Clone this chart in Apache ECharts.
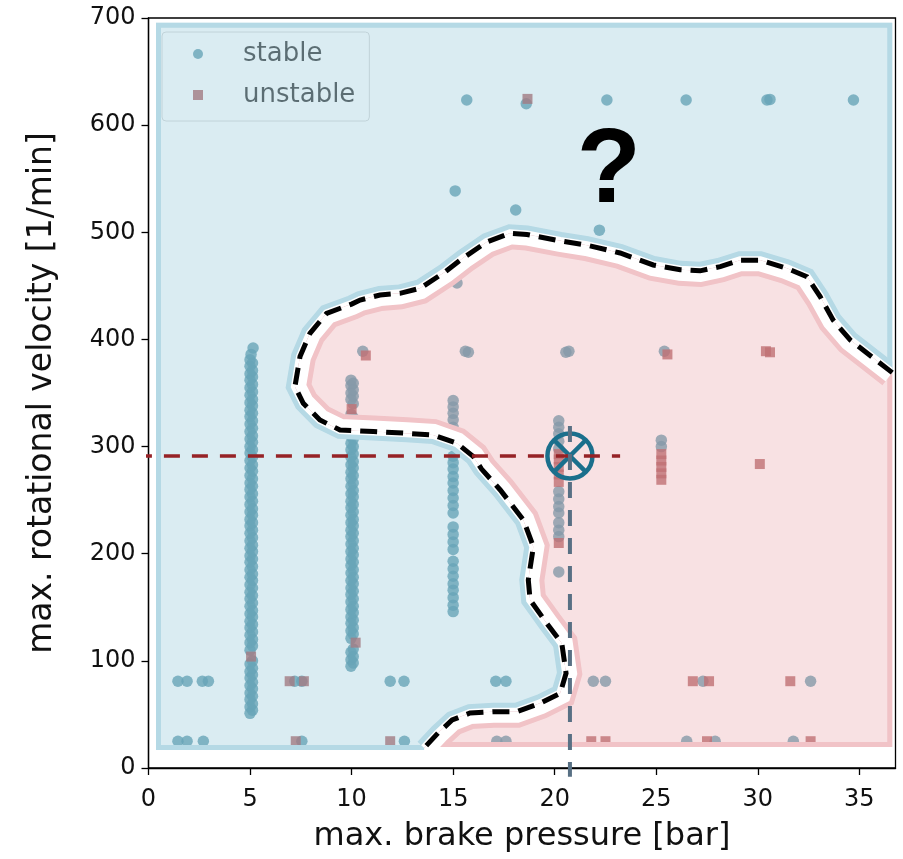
<!DOCTYPE html>
<html>
<head>
<meta charset="utf-8">
<script src="https://cdn.jsdelivr.net/npm/echarts@6/dist/echarts.min.js"></script>
<style>
html, body { margin: 0; padding: 0; background: #fff; }
#main { width: 903px; height: 859px; }
</style>
</head>
<body>
<div id="main"></div>
<script>
// stability boundary (black dashed line), from right edge round the bulge down to the bottom
var boundaryX = [36.62, 34.55, 33.71, 33.07, 32.42, 31.43, 30.12, 29.13, 28.15, 27.16, 26.18, 24.85, 23.22, 21.58, 20.27, 18.63, 17.8, 16.66, 15.49, 14.6, 13.37, 12.38, 11.4, 10.42, 10.0, 8.77, 7.95, 7.46, 7.21, 7.62, 8.44, 9.43, 11.07, 12.71, 14.02, 15.18, 16.0, 16.4, 17.32, 18.46, 18.95, 18.7, 18.79, 19.61, 20.35, 20.56, 20.27, 19.28, 18.13, 16.98, 15.83, 14.95, 14.26, 13.57];
var boundaryY = [369, 399.5, 418, 440, 458.6, 466.4, 474, 474, 468, 464, 465, 469.5, 480.7, 488, 492, 498, 499, 491, 476, 463, 447.7, 443, 441.5, 436.8, 433, 424.4, 405.7, 384, 356, 340.4, 324.8, 315.5, 314, 312.4, 310.8, 303.1, 290.6, 279, 259.5, 231.5, 206.5, 175.5, 156.8, 135.1, 116.4, 88.4, 69.7, 60.4, 52.5, 52.5, 51.3, 44.8, 32.7, 18.7];
// outer corners of the two regions
var blueCornerX = [36.62, 36.62, 0.37, 0.37, 13.57];
var blueCornerY = [369, 695.5, 695.5, 16.8, 16.8];
var pinkCornerX = [13.57, 36.62];
var pinkCornerY = [19.6, 19.6];

// measured runs (dense vertical columns)
var col5Y = [51, 57, 64, 70, 77, 84, 90, 97, 110, 117, 124, 131, 137, 144, 151, 158, 164, 171, 178, 185, 192, 198, 205, 212, 219, 226, 232, 239, 246, 253, 260, 266, 273, 280, 287, 294, 300, 307, 314, 321, 328, 334, 341, 348, 355, 362, 368, 375, 381];
var col5bY = [54, 60, 67, 74, 80, 87, 93, 100, 114, 120, 127, 134, 141, 147, 154, 161, 168, 175, 181, 188, 195, 202, 208, 215, 222, 229, 236, 242, 249, 256, 263, 270, 277, 283, 290, 297, 304, 310, 317, 324, 331, 338, 344, 351, 358, 365, 371, 378];
var col10Y = [95, 101, 108, 121, 128, 135, 141, 148, 155, 162, 168, 175, 182, 189, 195, 202, 209, 216, 222, 229, 236, 243, 249, 256, 263, 270, 276, 283, 290, 297, 303, 310, 317, 324, 330, 344, 350, 357, 362];
var col10bY = [98, 104, 111, 125, 131, 138, 145, 151, 158, 165, 172, 178, 185, 192, 199, 205, 212, 219, 226, 232, 239, 246, 253, 259, 266, 273, 280, 286, 293, 300, 307, 313, 320, 327, 340, 347, 353, 359];
var col15Y = [146, 152, 159, 166, 172, 179, 186, 193, 204, 211, 218, 225, 238, 245, 252, 259, 266, 272, 279, 285, 291, 306, 318, 325, 331, 337, 343];
var col20Y = [183, 216, 222, 229, 238, 244, 251, 258, 298, 305, 312, 318, 324];
var col25Y = [300, 306];
var stableOther = [
  [5.15, 392], [5.05, 386],
  [10.55, 389], [15.6, 389], [15.75, 388], [20.55, 388], [20.7, 389], [25.4, 389],
  [15.67, 623.5], [18.6, 620], [22.57, 623.5], [26.47, 623.5], [30.45, 623.5], [30.6, 624], [34.71, 623.5],
  [15.1, 538.6], [18.08, 520.8], [22.2, 502], [15.19, 452.7],
  [1.45, 81], [1.9, 81], [2.65, 81], [2.95, 81], [7.2, 81], [7.55, 81], [11.9, 81], [12.58, 81], [17.1, 81], [17.6, 81], [21.9, 81], [22.5, 81], [27.3, 81], [32.6, 81],
  [1.45, 25], [1.9, 25], [2.7, 25], [7.55, 25], [12.6, 25], [17.15, 25], [17.6, 25], [26.5, 25], [27.9, 25], [31.75, 25]
];
var col20UnstableY = [210, 267, 274, 281, 288, 293];
var col25UnstableY = [269, 275, 281, 287, 293];
var unstableOther = [
  [5.05, 104], [10.0, 335], [10.2, 117], [30.1, 283.7],
  [10.7, 385], [25.55, 386], [30.4, 389], [30.6, 388],
  [18.66, 624.5],
  [6.95, 81], [7.65, 81], [26.8, 81], [27.6, 81], [31.6, 81],
  [7.25, 25], [11.9, 25], [21.8, 25], [22.5, 25], [27.5, 25], [32.6, 25]
];

// operating point and its guide lines
var opPoint = [20.75, 291.3];
var hLineX = [-0.62, 23.22];
var vLineY = [319.2, -8.1];
var questionPos = [22.66, 555];

var xTicks = [0, 5, 10, 15, 20, 25, 30, 35];

function column(x, ys) {
  return ys.map(function (y) { return [x, y]; });
}
var stableData = [].concat(column(5.0, col5Y), column(5.12, col5bY), column(9.97, col10Y), column(10.08, col10bY),
  column(15.0, col15Y), column(20.2, col20Y), column(25.25, col25Y), stableOther);
var unstableData = [].concat(column(20.2, col20UnstableY), column(25.25, col25UnstableY), unstableOther);

var boundary = boundaryX.map(function (x, i) { return [x, boundaryY[i]]; });
var bluePoly = blueCornerX.map(function (x, i) { return [x, blueCornerY[i]]; }).concat(boundary.slice().reverse());
var pinkPoly = boundary.concat(pinkCornerX.map(function (x, i) { return [x, pinkCornerY[i]]; }));

var blueFill = 'rgba(181,217,229,0.5)', blueLine = '#b5d9e5';
var pinkFill = 'rgba(241,195,199,0.5)', pinkLine = '#f1c3c7';

function renderRegions(params, api) {
  var c = function (p) { return api.coord(p); };
  var blue = bluePoly.map(c), pink = pinkPoly.map(c), bnd = boundary.map(c);
  return {
    type: 'group',
    children: [
      { type: 'polygon', shape: { points: blue }, style: { fill: blueFill } },
      {
        type: 'group', clipPath: { type: 'polygon', shape: { points: blue } },
        children: [
          { type: 'polygon', shape: { points: blue }, style: { fill: 'none', stroke: blueLine, lineWidth: 10 } },
          { type: 'polyline', shape: { points: bnd }, style: { fill: 'none', stroke: blueLine, lineWidth: 18 } },
          { type: 'polyline', shape: { points: bnd }, style: { fill: 'none', stroke: '#fff', lineWidth: 8 } }
        ]
      },
      { type: 'polygon', shape: { points: pink }, style: { fill: pinkFill } },
      {
        type: 'group', clipPath: { type: 'polygon', shape: { points: pink } },
        children: [
          { type: 'polygon', shape: { points: pink }, style: { fill: 'none', stroke: pinkLine, lineWidth: 10 } },
          { type: 'polyline', shape: { points: bnd }, style: { fill: 'none', stroke: pinkLine, lineWidth: 32 } },
          { type: 'polyline', shape: { points: bnd }, style: { fill: 'none', stroke: '#fff', lineWidth: 22 } }
        ]
      },
      { type: 'polyline', shape: { points: bnd }, style: { fill: 'none', stroke: '#000', lineWidth: 5, lineDash: [17, 9] } }
    ]
  };
}

function renderMarks(params, api) {
  var p = api.coord(opPoint);
  var r = 22.5, d = r * Math.SQRT1_2;
  var q = api.coord(questionPos);
  return {
    type: 'group',
    children: [
      { type: 'circle', shape: { cx: p[0], cy: p[1], r: r }, style: { fill: 'none', stroke: '#1b6f8c', lineWidth: 4.5 } },
      { type: 'line', shape: { x1: p[0] - d, y1: p[1] - d, x2: p[0] + d, y2: p[1] + d }, style: { stroke: '#1b6f8c', lineWidth: 4.5 } },
      { type: 'line', shape: { x1: p[0] - d, y1: p[1] + d, x2: p[0] + d, y2: p[1] - d }, style: { stroke: '#1b6f8c', lineWidth: 4.5 } },
      { type: 'text', x: q[0], y: q[1], style: { text: '?', font: 'bold 105px "Liberation Sans"', fill: '#000', align: 'center', verticalAlign: 'middle' } }
    ]
  };
}

var chart = echarts.init(document.getElementById('main'));
var option = {
  animation: false,
  backgroundColor: '#fff',
  textStyle: { fontFamily: 'DejaVu Sans' },
  grid: { left: 148.5, right: 7.5, top: 18, bottom: 91, show: true, borderColor: '#000', borderWidth: 1.3, backgroundColor: 'transparent' },
  legend: {
    data: [{ name: 'stable', icon: 'circle' }, { name: 'unstable', icon: 'rect' }],
    orient: 'vertical', left: 162, top: 32,
    itemWidth: 10, itemHeight: 10, itemGap: 15,
    padding: [9, 14, 13, 31],
    backgroundColor: 'rgba(255,255,255,0.8)', borderColor: '#cccccc', borderWidth: 1, borderRadius: 4,
    textStyle: { fontSize: 26, color: '#000', lineHeight: 26, padding: [0, 0, 0, 35], fontFamily: 'DejaVu Sans' }
  },
  xAxis: {
    type: 'value', min: 0, max: 36.78,
    name: 'max. brake pressure [bar]', nameLocation: 'middle', nameGap: 53,
    nameTextStyle: { fontSize: 32, color: '#111', fontFamily: 'DejaVu Sans' },
    axisLine: { onZero: false, lineStyle: { color: '#000', width: 1.3 } },
    axisTick: { show: true, length: 7, customValues: xTicks, lineStyle: { color: '#000', width: 1.3 } },
    axisLabel: { fontSize: 24, color: '#111', margin: 20, customValues: xTicks, fontFamily: 'DejaVu Sans' },
    splitLine: { show: false }
  },
  yAxis: {
    type: 'value', min: 0, max: 700, interval: 100,
    name: 'max. rotational velocity [1/min]', nameLocation: 'middle', nameGap: 90,
    nameTextStyle: { fontSize: 33, color: '#111', fontFamily: 'DejaVu Sans' },
    axisLine: { onZero: false, lineStyle: { color: '#000', width: 1.3 } },
    axisTick: { show: true, length: 7, lineStyle: { color: '#000', width: 1.3 } },
    axisLabel: { fontSize: 24, color: '#111', margin: 13, fontFamily: 'DejaVu Sans' },
    splitLine: { show: false }
  },
  series: [
    { name: 'stable', type: 'scatter', data: stableData, symbol: 'circle', symbolSize: 11.5, itemStyle: { color: '#1a6f8a' }, z: 2, silent: true },
    { name: 'unstable', type: 'scatter', data: unstableData, symbol: 'rect', symbolSize: 10, itemStyle: { color: '#8f1d21' }, z: 3, silent: true },
    { name: 'regions', type: 'custom', zlevel: 1, z: 1, data: [[0, 0]], renderItem: renderRegions, silent: true },
    { name: 'marks', type: 'custom', zlevel: 1, z: 5, data: [[0, 0]], renderItem: renderMarks, silent: true, clip: false },
    {
      name: 'hline', type: 'line', zlevel: 1, z: 6, clip: false, symbol: 'none', silent: true,
      data: hLineX.map(function (x) { return [x, opPoint[1]]; }),
      lineStyle: { color: '#962226', width: 3.5, type: [16, 12] }
    },
    {
      name: 'vline', type: 'line', zlevel: 1, z: 6, clip: false, symbol: 'none', silent: true,
      data: vLineY.map(function (y) { return [opPoint[0], y]; }),
      lineStyle: { color: '#587084', width: 4, type: [16, 12] }
    }
  ]
};
chart.setOption(option);
</script>
</body>
</html>
